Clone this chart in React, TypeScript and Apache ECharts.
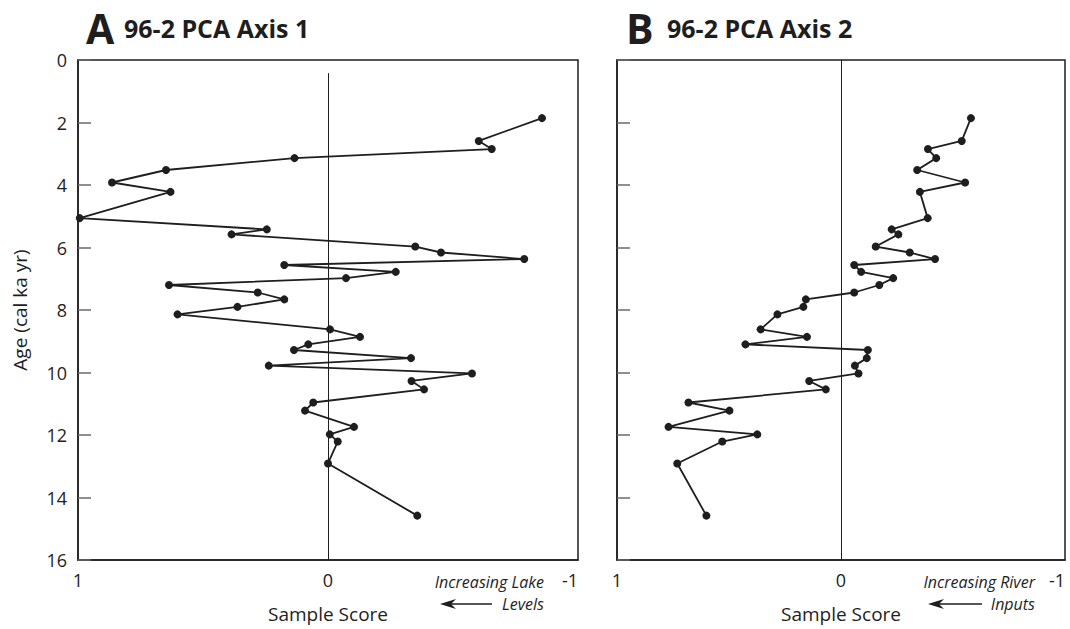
import React, { useEffect, useRef } from "react";
import * as echarts from "echarts";

// Sample ages (cal ka yr BP), shared by both PCA axes
const AGES = [
  1.86, 2.59, 2.85, 3.14, 3.52, 3.92, 4.22, 5.06, 5.42, 5.58, 5.97, 6.16, 6.37,
  6.56, 6.78, 6.98, 7.2, 7.44, 7.66, 7.9, 8.14, 8.62, 8.86, 9.1, 9.28, 9.54,
  9.78, 10.03, 10.27, 10.54, 10.96, 11.22, 11.74, 11.98, 12.21, 12.91, 14.58,
];

// PCA Axis 1 sample scores
const AXIS1_SCORES = [
  -0.856, -0.603, -0.655, 0.134, 0.648, 0.864, 0.63, 0.993, 0.245, 0.386,
  -0.349, -0.452, -0.785, 0.175, -0.271, -0.072, 0.636, 0.281, 0.175, 0.362,
  0.602, -0.008, -0.128, 0.079, 0.136, -0.332, 0.237, -0.576, -0.334, -0.384,
  0.059, 0.092, -0.104, -0.007, -0.039, 0.0, -0.357,
];

// PCA Axis 2 sample scores
const AXIS2_SCORES = [
  -0.58, -0.539, -0.388, -0.425, -0.34, -0.554, -0.352, -0.387, -0.226, -0.256,
  -0.155, -0.307, -0.42, -0.059, -0.09, -0.233, -0.171, -0.059, 0.157, 0.168,
  0.284, 0.359, 0.152, 0.427, -0.12, -0.115, -0.062, -0.078, 0.142, 0.068,
  0.681, 0.498, 0.77, 0.374, 0.53, 0.731, 0.601,
];

const SCORE_TICKS = [1, 0, -1];
const AGE_TICK_STEP = 2;

const FONT = "'Open Sans', 'Noto Sans', sans-serif";
const INK = "#1e1e1e";

function pairs(scores: number[]) {
  return scores.map((s, i) => [s, AGES[i]]);
}

function arrowGraphic(x1: number, x2: number, y: number) {
  return [
    {
      type: "line",
      shape: { x1: x1 + 8, y1: y, x2, y2: y },
      style: { stroke: INK, lineWidth: 1.3 },
    },
    {
      type: "polygon",
      shape: {
        points: [
          [x1, y],
          [x1 + 16, y - 5],
          [x1 + 11, y],
          [x1 + 16, y + 5],
        ],
      },
      style: { fill: INK },
    },
  ];
}

function italicNote(text: string, x: number, y: number) {
  return {
    type: "text",
    x,
    y,
    style: {
      text,
      fontFamily: FONT,
      fontSize: 16,
      fontStyle: "italic",
      fill: INK,
      align: "right",
      verticalAlign: "middle",
    },
  };
}

function titleText(text: string, left: number, top: number, size: number) {
  return {
    type: "text",
    left,
    top,
    style: {
      text,
      fontFamily: FONT,
      fontSize: size,
      fontWeight: "bold",
      fill: INK,
    },
  };
}

export default function App() {
  const ref = useRef<HTMLDivElement>(null);

  useEffect(() => {
    if (!ref.current) return;
    const chart = echarts.init(ref.current, null, { renderer: "svg" });

    const xAxisBase = (gridIndex: number) => ({
      type: "value",
      gridIndex,
      inverse: true,
      min: -1,
      max: 1,
      interval: 1,
      name: "Sample Score",
      nameLocation: "middle",
      nameGap: 44,
      nameTextStyle: { fontFamily: FONT, fontSize: 19, color: INK },
      axisLine: { show: true, onZero: false, lineStyle: { color: INK, width: 1.5 } },
      axisTick: { show: false },
      splitLine: { show: false },
      axisLabel: {
        fontFamily: FONT,
        fontSize: 18,
        color: INK,
        margin: 11,
        alignMinLabel: "right",
        formatter: (v: number) =>
          SCORE_TICKS.includes(v) ? (v < 0 ? "-" + Math.abs(v) : String(v)) : "",
      },
    });

    const yAxisBase = (gridIndex: number, showLabels: boolean) => ({
      type: "value",
      gridIndex,
      inverse: true,
      min: 0,
      max: 16,
      interval: AGE_TICK_STEP,
      name: showLabels ? "Age (cal ka yr)" : "",
      nameLocation: "middle",
      nameGap: 49,
      nameTextStyle: { fontFamily: FONT, fontSize: 19, color: INK },
      axisLine: { show: true, onZero: false, lineStyle: { color: INK, width: 1.5 } },
      axisTick: {
        show: true,
        inside: true,
        length: 13,
        lineStyle: { color: "#6a6a6a", width: 1.5 },
      },
      splitLine: { show: false },
      axisLabel: {
        show: showLabels,
        fontFamily: FONT,
        fontSize: 18,
        color: INK,
        margin: 11,
      },
    });

    const seriesBase = (index: number, scores: number[], zeroStart: number) => ({
      type: "line",
      xAxisIndex: index,
      yAxisIndex: index,
      data: pairs(scores),
      symbol: "circle",
      symbolSize: 8,
      itemStyle: { color: INK },
      lineStyle: { color: INK, width: 1.8 },
      silent: true,
      markLine: {
        silent: true,
        symbol: "none",
        label: { show: false },
        lineStyle: { color: INK, width: 1, type: "solid" },
        data: [[{ coord: [0, zeroStart] }, { coord: [0, 16] }]],
      },
    });

    chart.setOption({
      animation: false,
      backgroundColor: "#ffffff",
      grid: [
        {
          left: 78,
          top: 60,
          width: 500,
          height: 500,
          show: true,
          borderColor: INK,
          borderWidth: 1.5,
        },
        {
          left: 617,
          top: 60,
          width: 448,
          height: 500,
          show: true,
          borderColor: INK,
          borderWidth: 1.5,
        },
      ],
      xAxis: [xAxisBase(0), xAxisBase(1)],
      yAxis: [yAxisBase(0, true), yAxisBase(1, false)],
      series: [
        seriesBase(0, AXIS1_SCORES, 0.42),
        seriesBase(1, AXIS2_SCORES, 0),
      ],
      graphic: [
        titleText("A", 86, 7, 41),
        titleText("96-2 PCA Axis 1", 124, 15, 25),
        titleText("B", 626, 7, 41),
        titleText("96-2 PCA Axis 2", 667, 15, 25),
        italicNote("Increasing Lake", 544, 582),
        italicNote("Levels", 544, 604),
        ...arrowGraphic(440, 492, 604),
        italicNote("Increasing River", 1035, 582),
        italicNote("Inputs", 1035, 604),
        ...arrowGraphic(928, 982, 604),
      ],
    });

    return () => chart.dispose();
  }, []);

  return (
    <div
      ref={ref}
      style={{ position: "absolute", left: 0, top: 0, width: 1070, height: 629 }}
    />
  );
}
